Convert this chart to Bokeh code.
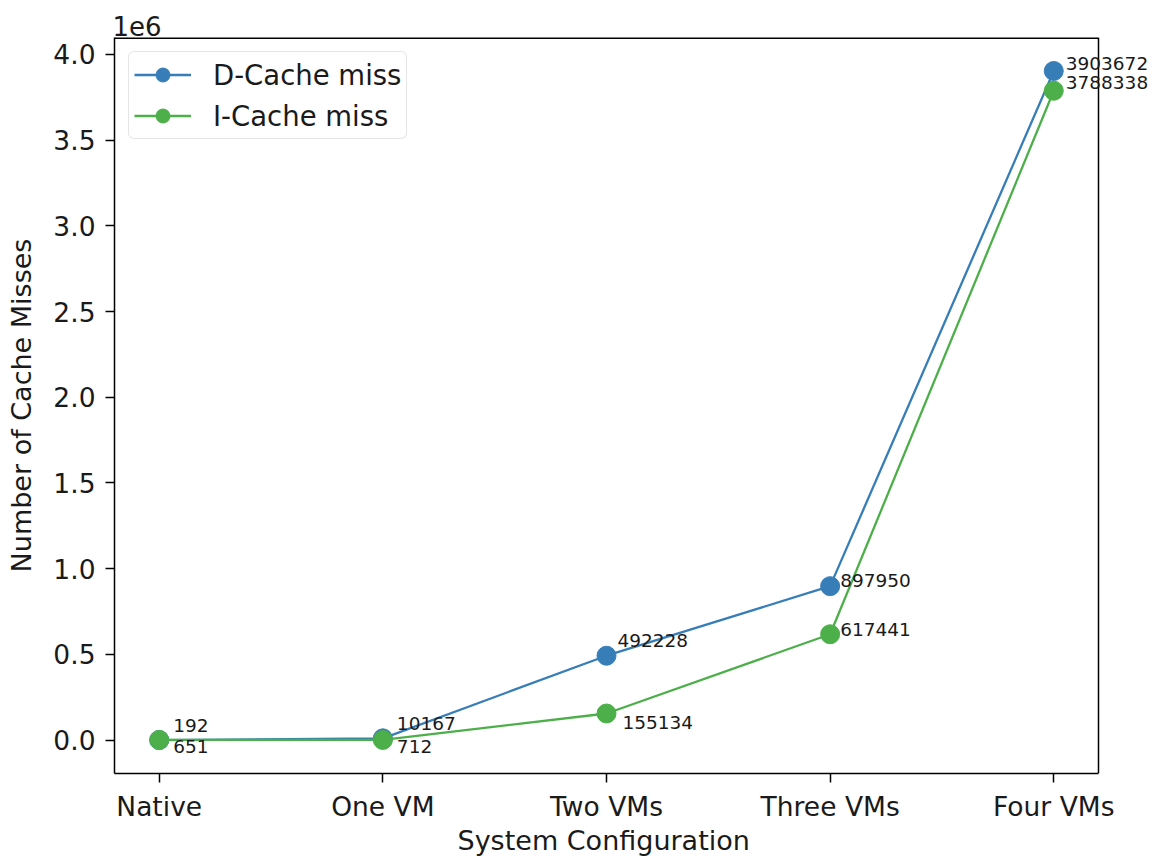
from bokeh.plotting import figure
from bokeh.models import (ColumnDataSource, FixedTicker, LabelSet, Legend,
                          LegendItem, Span, Title)
from bokeh.core.properties import value
from bokeh.embed import file_html
from bokeh.resources import INLINE

# --- data -------------------------------------------------------------
configs = ["Native", "One VM", "Two VMs", "Three VMs", "Four VMs"]
dcache_miss = [192, 10167, 492228, 897950, 3903672]
icache_miss = [651, 712, 155134, 617441, 3788338]
y_ticks = [0, 500000, 1000000, 1500000, 2000000, 2500000, 3000000, 3500000, 4000000]
y_tick_labels = ["0.0", "0.5", "1.0", "1.5", "2.0", "2.5", "3.0", "3.5", "4.0"]

# annotation nudges (screen px, +y is up) so the value labels don't collide
d_dx = [14, 14, 11, 10, 12]
d_dy = [15, 15, 15, 6, 7]
i_dx = [14, 14, 16, 10, 12]
i_dy = [-7, -7, -9, 5, 8]

FONT = "DejaVu Sans"
BLUE = "#377eb8"
GREEN = "#4daf4a"
INK = "#1a1a1a"

# axes box: 5% margins around the data, like a default matplotlib axes
xs = list(range(len(configs)))
x0, x1 = -0.2, len(configs) - 1 + 0.2
ymax = max(max(dcache_miss), max(icache_miss))
ymin = min(min(dcache_miss), min(icache_miss))
pad = 0.05 * (ymax - ymin)
y0, y1 = ymin - pad, ymax + pad

# the drawing area runs on past the right edge of the box so that the
# right-most value labels can spill over it without being clipped
BOX_W, SPILL = 984, 60
x_end = x1 + SPILL * (x1 - x0) / BOX_W

p = figure(
    width=1158, height=859,
    x_range=(x0, x_end), y_range=(y0, y1),
    output_backend="svg", toolbar_location=None,
    min_border_left=114, min_border_right=0,
    min_border_top=37, min_border_bottom=86,
)
p.background_fill_color = "white"
p.border_fill_color = "white"
p.grid.visible = False
p.outline_line_color = None

# scale factor shown above the y axis
p.title = Title(text="1e6", align="left", vertical_align="top",
                text_font=FONT, text_font_size="26px", text_line_height=1.4,
                text_font_style="normal", text_color=INK, standoff=0, offset=-2)

# x axis title, centred under the box rather than under the whole drawing area
XLABEL = "System Configuration"
p.add_layout(Title(text=XLABEL, align="left", vertical_align="top",
                   text_font=FONT, text_font_size="27px", text_font_style="normal",
                   text_color=INK, standoff=0, offset=343), "below")

# box edges (left / bottom come from the axes)
p.add_layout(Span(location=x1, dimension="height", line_color="black", line_width=1.5))
p.segment(x0=[x0], y0=[y1], x1=[x1], y1=[y1], line_color="black", line_width=3)

d_src = ColumnDataSource(dict(x=xs, y=dcache_miss, lbl=[str(v) for v in dcache_miss], dx=d_dx, dy=d_dy))
i_src = ColumnDataSource(dict(x=xs, y=icache_miss, lbl=[str(v) for v in icache_miss], dx=i_dx, dy=i_dy))

d_line = p.line("x", "y", source=d_src, line_color=BLUE, line_width=2.3)
d_pts = p.scatter("x", "y", source=d_src, size=19, fill_color=BLUE, line_color=BLUE)
i_line = p.line("x", "y", source=i_src, line_color=GREEN, line_width=2.3)
i_pts = p.scatter("x", "y", source=i_src, size=19, fill_color=GREEN, line_color=GREEN)

for src in (d_src, i_src):
    p.add_layout(LabelSet(x="x", y="y", text="lbl", source=src,
                          x_offset="dx", y_offset="dy",
                          text_font=value(FONT), text_font_size=value("18.5px"),
                          text_color=INK, text_align="left", text_baseline="middle"))

# axes
xa = p.xaxis[0]
xa.ticker = FixedTicker(ticks=xs)
xa.major_label_overrides = {i: c for i, c in enumerate(configs)}
xa.bounds = (x0, x1)

ya = p.yaxis[0]
ya.ticker = FixedTicker(ticks=y_ticks)
ya.major_label_overrides = {t: s for t, s in zip(y_ticks, y_tick_labels)}
ya.axis_label = "Number of Cache Misses"

for ax in (xa, ya):
    ax.axis_line_color = "black"
    ax.axis_line_width = 1.5
    ax.major_tick_line_color = "black"
    ax.major_tick_line_width = 1.5
    ax.major_tick_out = 9
    ax.major_tick_in = 0
    ax.minor_tick_line_color = None
    ax.major_label_text_font = FONT
    ax.major_label_text_font_size = "26.5px"
    ax.major_label_text_color = INK
    ax.axis_label_text_font = FONT
    ax.axis_label_text_font_size = "27px"
    ax.axis_label_text_font_style = "normal"
    ax.axis_label_text_color = INK
xa.major_label_standoff = 8
ya.major_label_standoff = 10
ya.axis_label_standoff = 13

legend = Legend(items=[
    LegendItem(label="D-Cache miss", renderers=[d_line, d_pts]),
    LegendItem(label="I-Cache miss", renderers=[i_line, i_pts]),
], location="top_left")
legend.margin = 14
legend.padding = 5
legend.spacing = 6
legend.glyph_width = 57
legend.glyph_height = 35
legend.label_height = 35
legend.label_standoff = 22
legend.label_text_font = FONT
legend.label_text_font_size = "27.5px"
legend.label_text_color = INK
legend.border_line_color = "#cccccc"
legend.border_line_width = 1.5
legend.background_fill_alpha = 0.8
if "border_radius" in Legend.properties():
    legend.border_radius = 6
p.add_layout(legend)

open("out.html", "w").write(file_html(p, INLINE))
